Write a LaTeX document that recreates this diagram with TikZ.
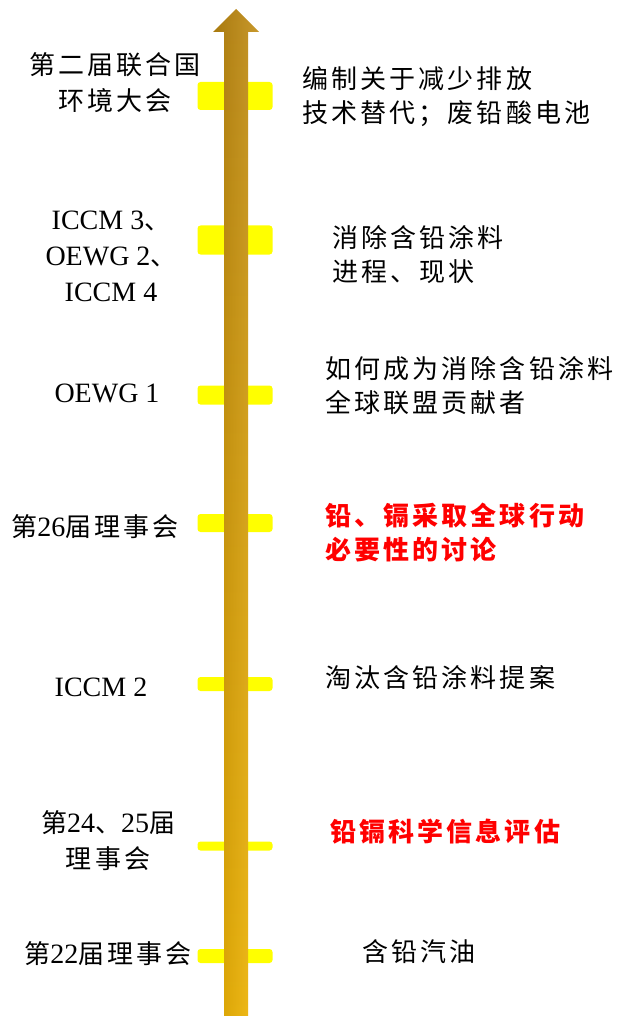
\documentclass[tikz,border=0pt]{standalone}
\usepackage{fontspec}
\setmainfont{Liberation Serif}
\newfontfamily\cjk[LetterSpace=12]{Noto Sans CJK SC}
\newcommand{\zh}[1]{{\cjk\fontsize{26}{36}\selectfont #1}}
\definecolor{barYellow}{HTML}{FFFF00}
\definecolor{arrowTop}{HTML}{C08A10}
\definecolor{arrowBot}{HTML}{F3B600}
\definecolor{noteRed}{HTML}{FF0000}
\begin{document}
\begin{tikzpicture}[x=1pt, y=-1pt,
        marker/.style={fill=barYellow, rounded corners=3pt, inner sep=0pt, minimum width=75pt},
        event/.style={inner sep=0pt, align=center, font=\fontsize{28}{36}\selectfont},
        topic/.style={inner sep=0pt, anchor=west, align=left, font=\fontsize{26}{34}\selectfont\cjk},
        hot/.style={topic, text=noteRed, font=\fontsize{26}{34}\selectfont\cjk\bfseries}
      ]
      \useasboundingbox (0, 0) rectangle (618, 1016);
      % markers on the time line
      \node[marker, minimum height=28pt] at (235, 96) (m1) {};
      \node[marker, minimum height=29pt] at (235, 240) (m2) {};
      \node[marker, minimum height=19pt] at (235, 395) (m3) {};
      \node[marker, minimum height=18pt] at (235, 523) (m4) {};
      \node[marker, minimum height=14pt] at (235, 684) (m5) {};
      \node[marker, minimum height=9pt] at (235, 846) (m6) {};
      \node[marker, minimum height=14pt] at (235, 956) (m7) {};
      % time arrow
      \shade[top color=arrowTop, bottom color=arrowBot]
        (224, 1016) -- (224, 32) -- (213, 32) -- (236, 9) -- (259, 32)
        -- (248, 32) -- (248, 1016) -- cycle;
      \shade[left color=black, right color=white, fill opacity=0.12]
        (224, 1016) -- (224, 32) -- (213, 32) -- (236, 9) -- (259, 32)
        -- (248, 32) -- (248, 1016) -- cycle;

      % left side
      \node[event] at (115, 83) (e1) {\zh{第二届联合国}\\\zh{环境大会}};
      \node[event] at (111, 256) (e2) {ICCM 3\zh{、}\\OEWG 2\zh{、}\\ICCM 4};
      \node[event] at (107, 393) (e3) {OEWG 1};
      \node[event] at (95, 527) (e4) {\zh{第}26\zh{届理事会}};
      \node[event] at (101, 687) (e5) {ICCM 2};
      \node[event] at (108, 841) (e6) {\zh{第}24\zh{、}25\zh{届}\\\zh{理事会}};
      \node[event] at (108, 954) (e7) {\zh{第}22\zh{届理事会}};

      % right side
      \node[topic] at (302, 97) (t1) {编制关于减少排放\\技术替代；废铅酸电池};
      \node[topic] at (332, 255) (t2) {消除含铅涂料\\进程、现状};
      \node[topic] at (325, 386) (t3) {如何成为消除含铅涂料\\全球联盟贡献者};
      \node[hot] at (325, 533) (t4) {铅、镉采取全球行动\\必要性的讨论};
      \node[topic] at (325, 678) (t5) {淘汰含铅涂料提案};
      \node[hot] at (330, 832) (t6) {铅镉科学信息评估};
      \node[topic] at (362, 952) (t7) {含铅汽油};
  \end{tikzpicture}
\end{document}
